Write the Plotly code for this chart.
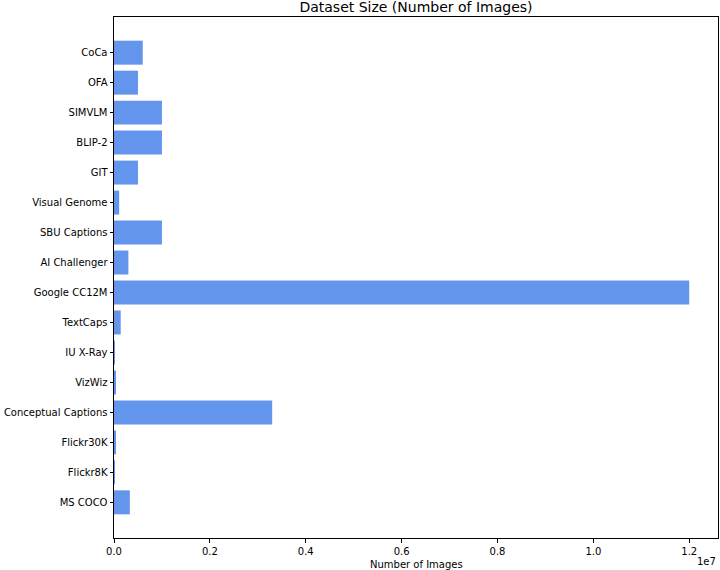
import plotly.graph_objects as go

categories = ["MS COCO", "Flickr8K", "Flickr30K", "Conceptual Captions", "VizWiz",
              "IU X-Ray", "TextCaps", "Google CC12M", "AI Challenger", "SBU Captions",
              "Visual Genome", "GIT", "BLIP-2", "SIMVLM", "OFA", "CoCa"]
num_images = [330000, 8000, 31000, 3300000, 31000,
              7470, 140000, 12000000, 300000, 1000000,
              108000, 500000, 1000000, 1000000, 500000, 600000]
x_tick_vals = [0, 2000000, 4000000, 6000000, 8000000, 10000000, 12000000]
x_tick_text = ["0.0", "0.2", "0.4", "0.6", "0.8", "1.0", "1.2"]

W, H = 720, 570
L, R, T, B = 114, 2, 17, 32
font = "DejaVu Sans"

fig = go.Figure(go.Bar(
    x=num_images, y=categories, orientation="h",
    marker=dict(color="#6495ED", line=dict(width=0)),
))

ph = H - T - B

fig.update_layout(
    width=W, height=H,
    margin=dict(l=L, r=R, t=T, b=B),
    paper_bgcolor="white", plot_bgcolor="white",
    bargap=0.2, showlegend=False,
    font=dict(family=font, size=10, color="black"),
    title=dict(text="Dataset Size (Number of Images)", x=0.5, xref="paper",
               y=1 - 7 / H, yref="container", xanchor="center", yanchor="middle",
               font=dict(family=font, size=14, color="black")),
    xaxis=dict(range=[0, 12600000], tickvals=x_tick_vals, ticktext=x_tick_text,
               automargin=False,
               showgrid=False, zeroline=False, showline=True, mirror=True,
               linecolor="black", linewidth=1, ticks="outside", ticklen=3.5,
               tickcolor="black", tickfont=dict(family=font, size=10, color="black")),
    yaxis=dict(type="category", categoryorder="array", categoryarray=categories,
               automargin=False,
               range=[-1.19, 16.19], showgrid=False, zeroline=False, showline=True,
               mirror=True, linecolor="black", linewidth=1, ticks="outside",
               ticklen=3.5, tickcolor="black",
               tickfont=dict(family=font, size=10, color="black")),
    annotations=[
        dict(text="Number of Images", x=0.5, xref="paper", y=-(564 - (H - B)) / ph,
             yref="paper", xanchor="center", yanchor="middle", showarrow=False,
             font=dict(family=font, size=10, color="black")),
        dict(text="1e7", x=1.0, xref="paper", y=-(561 - (H - B)) / ph,
             yref="paper", xanchor="right", yanchor="middle", showarrow=False,
             font=dict(family=font, size=10, color="black")),
    ],
)

fig.write_html("out.html")
